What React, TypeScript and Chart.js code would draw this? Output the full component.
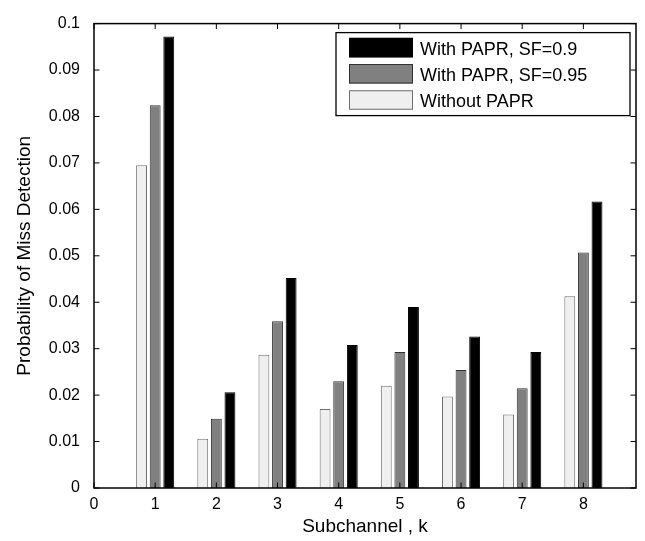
import React, { useEffect, useRef } from 'react';
import { Chart, registerables } from 'chart.js';

Chart.register(...registerables);

const subchannels = [1, 2, 3, 4, 5, 6, 7, 8];
const withoutPapr = [0.0695, 0.0106, 0.0287, 0.0170, 0.0220, 0.0197, 0.0158, 0.0413];
const paprSF095 = [0.0824, 0.0149, 0.0359, 0.0230, 0.0293, 0.0254, 0.0215, 0.0507];
const paprSF09 = [0.0972, 0.0206, 0.0452, 0.0308, 0.0390, 0.0326, 0.0293, 0.0617];

const seriesLabels = ['Without PAPR', 'With PAPR, SF=0.95', 'With PAPR, SF=0.9'];
const xTicks = [0, 1, 2, 3, 4, 5, 6, 7, 8];
const yTicks = [0, 0.01, 0.02, 0.03, 0.04, 0.05, 0.06, 0.07, 0.08, 0.09, 0.1];
const yTickLabels = ['0', '0.01', '0.02', '0.03', '0.04', '0.05', '0.06', '0.07', '0.08', '0.09', '0.1'];
const xMax = 8.86;

const FONT = '"Liberation Sans", Arial, Helvetica, sans-serif';

const framePlugin = {
  id: 'frame',
  afterDatasetsDraw(chart: any) {
    const { ctx, chartArea: a, scales } = chart;
    const xs = scales.x;
    const ys = scales.y;
    const tl = 5.5;
    ctx.save();
    ctx.strokeStyle = '#000';
    ctx.lineWidth = 1;
    ctx.beginPath();
    ys.ticks.forEach((t: any) => {
      const py = ys.getPixelForValue(t.value);
      ctx.moveTo(a.left, py);
      ctx.lineTo(a.left + tl, py);
      ctx.moveTo(a.right, py);
      ctx.lineTo(a.right - tl, py);
    });
    xs.ticks.forEach((t: any) => {
      const px = xs.getPixelForValue(t.value);
      ctx.moveTo(px, a.bottom);
      ctx.lineTo(px, a.bottom - tl);
      ctx.moveTo(px, a.top);
      ctx.lineTo(px, a.top + tl);
    });
    ctx.stroke();
    ctx.lineWidth = 1.5;
    ctx.strokeRect(a.left, a.top, a.right - a.left, a.bottom - a.top);
    ctx.restore();
  },
};

const legendPlugin = {
  id: 'boxLegend',
  afterDraw(chart: any) {
    const { ctx, chartArea: a } = chart;
    const bw = 294;
    const bh = 83;
    const bx = a.right - 6 - bw;
    const by = a.top + 9;
    ctx.save();
    ctx.fillStyle = '#fff';
    ctx.fillRect(bx, by, bw, bh);
    ctx.strokeStyle = '#000';
    ctx.lineWidth = 1.3;
    ctx.strokeRect(bx, by, bw, bh);
    const ds = chart.data.datasets;
    const rowH = 26.2;
    ctx.font = `18px ${FONT}`;
    ctx.textBaseline = 'middle';
    ctx.textAlign = 'left';
    for (let i = 0; i < ds.length; i++) {
      const d = ds[ds.length - 1 - i];
      const cy = by + 15 + i * rowH;
      const sx = bx + 13;
      const sw = 64;
      const sh = 19.5;
      ctx.fillStyle = d.backgroundColor;
      ctx.fillRect(sx, cy - sh / 2, sw, sh);
      ctx.strokeStyle = d.borderColor;
      ctx.lineWidth = 1;
      ctx.strokeRect(sx + 0.5, cy - sh / 2 + 0.5, sw - 1, sh - 1);
      ctx.fillStyle = '#000';
      ctx.fillText(d.label, bx + 84, cy + 2);
    }
    ctx.restore();
  },
};

export default function App() {
  const ref = useRef<HTMLCanvasElement | null>(null);

  useEffect(() => {
    if (!ref.current) return;
    const mk = (vals: number[]) => subchannels.map((k, i) => ({ x: k, y: vals[i] }));
    const chart = new Chart(ref.current, {
      type: 'bar',
      data: {
        datasets: [
          {
            label: seriesLabels[0],
            data: mk(withoutPapr),
            backgroundColor: '#efefef',
            borderColor: '#6f6f6f',
            borderWidth: 1,
            borderSkipped: 'start',
          },
          {
            label: seriesLabels[1],
            data: mk(paprSF095),
            backgroundColor: '#808080',
            borderColor: '#303030',
            borderWidth: 1,
            borderSkipped: 'start',
          },
          {
            label: seriesLabels[2],
            data: mk(paprSF09),
            backgroundColor: '#000000',
            borderColor: '#000000',
            borderWidth: 1,
            borderSkipped: 'start',
          },
        ],
      } as any,
      options: {
        animation: false,
        responsive: false,
        devicePixelRatio: 1,
        categoryPercentage: 0.667,
        barPercentage: 0.8,
        layout: { padding: { top: 15, right: 9, left: 0, bottom: 0 } },
        plugins: {
          legend: { display: false },
          tooltip: { enabled: false },
          title: { display: false },
        },
        scales: {
          x: {
            type: 'linear',
            min: 0,
            max: xMax,
            offset: false,
            grid: { display: false, offset: false, drawTicks: false },
            border: { display: false },
            afterBuildTicks: (s: any) => {
              s.ticks = xTicks.map((v) => ({ value: v }));
            },
            afterFit: (s: any) => {
              s.height = 53;
            },
            ticks: {
              color: '#000',
              padding: 7,
              font: { family: FONT, size: 16 },
              maxRotation: 0,
              autoSkip: false,
              callback: (v: any) => String(v),
            },
            title: {
              display: true,
              text: 'Subchannel , k',
              color: '#000',
              font: { family: FONT, size: 19 },
              padding: { top: 0, bottom: 3 },
            },
          },
          y: {
            type: 'linear',
            min: 0,
            max: 0.1,
            grid: { display: false, drawTicks: false },
            border: { display: false },
            afterBuildTicks: (s: any) => {
              s.ticks = yTicks.map((v) => ({ value: v }));
            },
            afterFit: (s: any) => {
              s.width = 94;
            },
            ticks: {
              color: '#000',
              padding: 14,
              font: { family: FONT, size: 16 },
              autoSkip: false,
              callback: (_v: any, i: number) => yTickLabels[i],
            },
            title: {
              display: true,
              text: 'Probability of Miss Detection',
              color: '#000',
              font: { family: FONT, size: 19 },
              padding: { top: 13.6, bottom: 0 },
            },
          },
        },
      } as any,
      plugins: [framePlugin, legendPlugin],
    });
    return () => chart.destroy();
  }, []);

  return (
    <div style={{ position: 'absolute', left: 0, top: 0, width: 645, height: 541, background: '#fff' }}>
      <canvas ref={ref} width={645} height={541} style={{ display: 'block', width: 645, height: 541 }} />
    </div>
  );
}
